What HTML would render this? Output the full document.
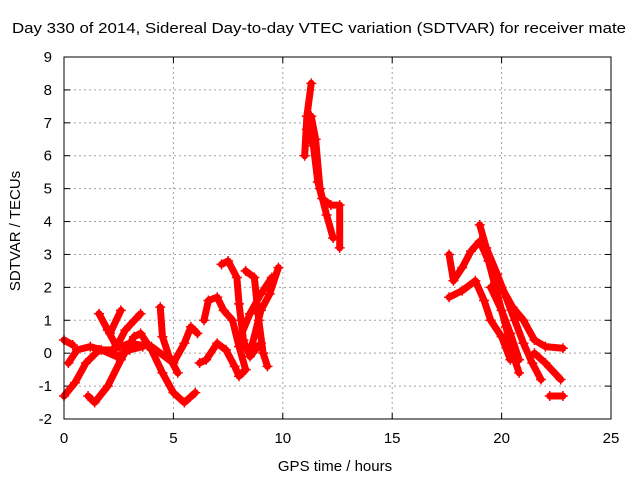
<!DOCTYPE html>
<html><head><meta charset="utf-8"><style>
body{margin:0;background:#fff}
svg text{font-family:"Liberation Sans",sans-serif;font-size:15px;fill:#000}
</style></head><body>
<svg id="chart" width="640" height="480" xmlns="http://www.w3.org/2000/svg">
<text x="12" y="33" textLength="614" lengthAdjust="spacingAndGlyphs">Day 330 of 2014, Sidereal Day-to-day VTEC variation (SDTVAR) for receiver mate</text>
<text x="335" y="471" text-anchor="middle">GPS time / hours</text>
<text transform="translate(20,231) rotate(-90)" text-anchor="middle">SDTVAR / TECUs</text>
<g id="grid"></g>
<g id="ticks"></g>
<g id="series"></g>
<rect x="64" y="57" width="547" height="362" fill="none" stroke="#000" stroke-width="1"/>
</svg>
<script>
const xTicks=[0,5,10,15,20,25];
const yTicks=[-2,-1,0,1,2,3,4,5,6,7,8,9];
const track1=[[0,0.4],[0.4,0.25]];
const track2=[[0,-1.3],[0.5,-0.9],[1,-0.3],[1.6,0.1],[2.2,0.1],[3,0.3],[4,0.2],[5,-0.3],[5.5,0.3],[5.8,0.8],[6.1,0.6]];
const track3=[[0.2,-0.3],[0.6,0.1],[1.2,0.2],[1.7,0.1],[2.4,-0.1],[3,0.1],[3.6,0.2]];
const track4=[[1.1,-1.3],[1.4,-1.5],[2,-1.0],[2.6,-0.2],[3.2,0.5],[3.5,0.6],[4,0.1],[4.5,-0.6],[5,-1.2],[5.5,-1.5],[6,-1.2]];
const track5=[[1.6,1.2],[2,0.7],[2.4,0.2],[2.8,0.7],[3.5,1.2]];
const track6=[[2.1,0.6],[2.6,1.3]];
const track7=[[4.4,1.4],[4.5,0.5],[4.8,-0.1],[5.2,-0.6]];
const track8=[[6.2,-0.3],[6.5,-0.2],[7,0.3],[7.4,0.1],[7.8,-0.4],[8,-0.7],[8.3,-0.5]];
const track9=[[6.4,1.0],[6.6,1.6],[7,1.7],[7.3,1.3],[7.7,1.0],[8,0.2],[8.3,-0.5]];
const track10=[[7.2,2.7],[7.5,2.8],[7.9,2.3],[8,1.5],[8.2,0.4],[8.5,-0.1],[9,0.3]];
const track11=[[8.3,2.5],[8.7,2.3],[8.9,1.0],[9.1,0.0],[9.3,-0.4]];
const track12=[[8.5,0],[9,1.3],[9.4,1.8],[9.8,2.6]];
const track13=[[8.0,0.4],[8.5,1.2],[9,1.8],[9.5,2.3]];
const track14=[[11,6],[11.1,7.2],[11.3,8.2]];
const track15=[[11.1,6.8],[11.4,6.3],[11.6,5.2],[11.8,4.7],[12.2,4.5],[12.6,4.5],[12.6,3.2]];
const track16=[[11.3,7.2],[11.5,6.5],[11.7,5],[12,4.2],[12.3,3.5]];
const track17=[[17.6,3],[17.8,2.2],[18.2,2.6],[18.6,3.1],[19,3.4],[19.4,2.8],[19.8,1.8],[20.2,0.8],[20.5,0],[20.8,-0.6]];
const track18=[[17.6,1.7],[18.2,1.9],[18.8,2.2],[19.2,1.6],[19.5,1.0],[20,0.5],[20.4,-0.2]];
const track19=[[19,3.9],[19.3,3.2],[19.8,2.4],[20.2,1.7],[20.6,1.0],[21,0.3],[21.4,-0.3],[21.8,-0.8]];
const track20=[[19.4,2.9],[20,2.0],[20.5,1.4],[21,1.0],[21.5,0.4],[22,0.2],[22.8,0.15]];
const track21=[[21.5,0],[22,-0.3],[22.7,-0.8]];
const track22=[[22.2,-1.3],[22.8,-1.3]];
const track23=[[19.5,2],[20,1.3],[20.4,0.6],[20.8,-0.2]];
const tracks=[track1,track2,track3,track4,track5,track6,track7,track8,track9,track10,track11,track12,track13,track14,track15,track16,track17,track18,track19,track20,track21,track22,track23];
const NS='http://www.w3.org/2000/svg';
const X0=64,X1=611,Y0=419,Y1=57;
function xs(v){return X0+(v-0)/(25-0)*(X1-X0);}
function ys(v){return Y0-(v+2)/(9+2)*(Y0-Y1);}
function mk(t,a,p){const e=document.createElementNS(NS,t);for(const k in a)e.setAttribute(k,a[k]);p.appendChild(e);return e;}
const grid=document.getElementById('grid'),ticks=document.getElementById('ticks'),ser=document.getElementById('series');
xTicks.forEach(v=>{
  const x=xs(v);
  if(v>0&&v<25){const l=mk('line',{x1:x,x2:x,y1:Y1,y2:Y0,stroke:'#a0a0a0','stroke-dasharray':'2,3'},grid);
  
  }
  mk('line',{x1:x,x2:x,y1:Y0,y2:Y0-6,stroke:'#000'},ticks);
  mk('line',{x1:x,x2:x,y1:Y1,y2:Y1+6,stroke:'#000'},ticks);
  const t=mk('text',{x:x,y:443,'text-anchor':'middle'},ticks);t.textContent=v;
  
  
});
yTicks.forEach(v=>{
  const y=ys(v);
  if(v>-2&&v<9){const l=mk('line',{x1:X0,x2:X1,y1:y,y2:y,stroke:'#a0a0a0','stroke-dasharray':'2,3'},grid);
  
  }
  mk('line',{x1:X0,x2:X0+6,y1:y,y2:y,stroke:'#000'},ticks);
  mk('line',{x1:X1,x2:X1-6,y1:y,y2:y,stroke:'#000'},ticks);
  const t=mk('text',{x:52,y:y+5,'text-anchor':'end'},ticks);t.textContent=v;
  
  
});
tracks.forEach(tr=>{
  const pts=tr.map(p=>xs(p[0])+','+ys(p[1])).join(' ');
  const pl=mk('polyline',{points:pts,fill:'none',stroke:'#ff0000','stroke-width':7,'stroke-linejoin':'round','stroke-linecap':'round'},ser);
  
  
  tr.forEach(p=>{
    const x=xs(p[0]),y=ys(p[1]);
    const m=mk('path',{d:`M${x-5},${y}H${x+5}M${x},${y-5}V${y+5}`,stroke:'#ff0000','stroke-width':1.5},ser);
    
    
  });
});
</script>
</body></html>
